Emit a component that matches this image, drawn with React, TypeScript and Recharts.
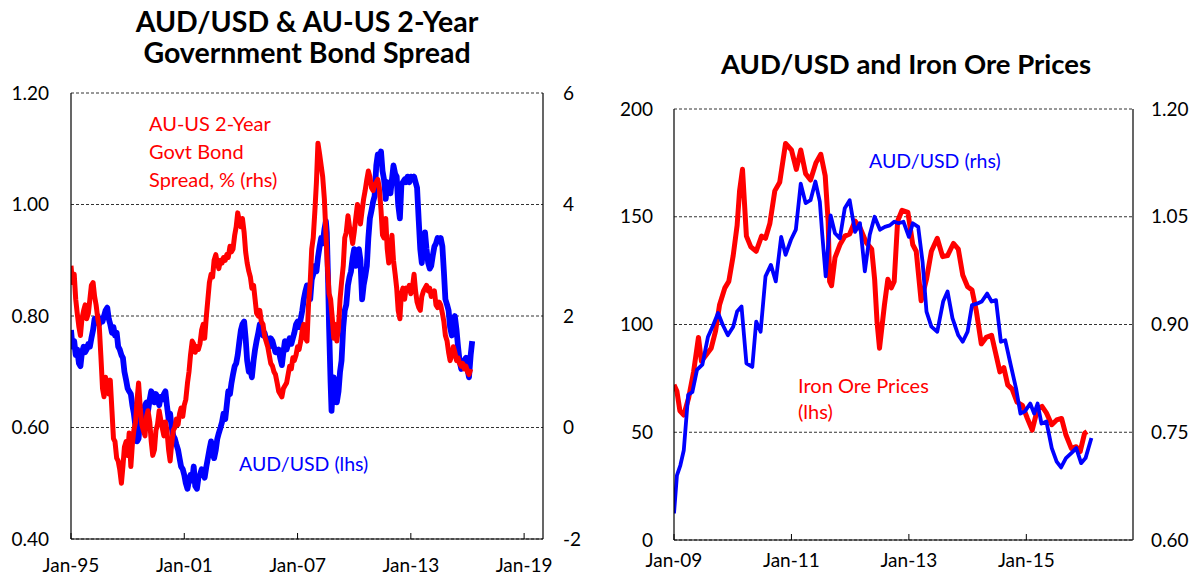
import React from 'react';
import { LineChart, Line, XAxis, YAxis, CartesianGrid } from 'recharts';

const FONT = 'Lato, "Open Sans", sans-serif';
const RED = '#FF0000';
const BLUE = '#0000FF';

// ---------- Left chart: AUD/USD & AU-US 2-Year Government Bond Spread ----------
const leftTitle = ['AUD/USD & AU-US 2-Year', 'Government Bond Spread'];
const leftXTicks = [1995, 2001, 2007, 2013, 2019];
const leftXLabels = ['Jan-95', 'Jan-01', 'Jan-07', 'Jan-13', 'Jan-19'];
const leftLhsTicks = [0.4, 0.6, 0.8, 1.0, 1.2];
const leftRhsTicks = [-2, 0, 2, 4, 6];

// AUD/USD (lhs) [decimal year, value]
const audLeft: [number, number][] = [
  [1995.0, 0.775], [1995.08, 0.745], [1995.17, 0.755], [1995.25, 0.73], [1995.33, 0.74], [1995.42, 0.715],
  [1995.5, 0.71], [1995.58, 0.735], [1995.67, 0.745], [1995.75, 0.735], [1995.83, 0.74], [1995.92, 0.75],
  [1996.0, 0.745], [1996.08, 0.76], [1996.17, 0.775], [1996.25, 0.795], [1996.33, 0.79], [1996.42, 0.8],
  [1996.5, 0.785], [1996.58, 0.795], [1996.67, 0.79], [1996.75, 0.8], [1996.83, 0.81], [1996.92, 0.815],
  [1997.0, 0.795], [1997.08, 0.785], [1997.17, 0.77], [1997.25, 0.78], [1997.33, 0.765], [1997.42, 0.77],
  [1997.5, 0.745], [1997.58, 0.74], [1997.67, 0.73], [1997.75, 0.725], [1997.83, 0.7], [1997.92, 0.685],
  [1998.0, 0.67], [1998.08, 0.665], [1998.17, 0.66], [1998.25, 0.64], [1998.33, 0.625], [1998.42, 0.6],
  [1998.5, 0.575], [1998.58, 0.58], [1998.67, 0.62], [1998.75, 0.635], [1998.83, 0.62], [1998.92, 0.64],
  [1999.0, 0.645], [1999.08, 0.63], [1999.17, 0.65], [1999.25, 0.665], [1999.33, 0.66], [1999.42, 0.645],
  [1999.5, 0.66], [1999.58, 0.655], [1999.67, 0.64], [1999.75, 0.655], [1999.83, 0.65], [1999.92, 0.66],
  [2000.0, 0.665], [2000.08, 0.64], [2000.17, 0.615], [2000.25, 0.625], [2000.33, 0.6], [2000.42, 0.585],
  [2000.5, 0.58], [2000.58, 0.57], [2000.67, 0.56], [2000.75, 0.545], [2000.83, 0.53], [2000.92, 0.525],
  [2001.0, 0.515], [2001.08, 0.5], [2001.17, 0.49], [2001.25, 0.505], [2001.33, 0.515], [2001.42, 0.505],
  [2001.5, 0.53], [2001.58, 0.495], [2001.67, 0.49], [2001.75, 0.51], [2001.83, 0.515], [2001.92, 0.525],
  [2002.0, 0.52], [2002.08, 0.51], [2002.17, 0.53], [2002.25, 0.545], [2002.33, 0.56], [2002.42, 0.575],
  [2002.5, 0.555], [2002.58, 0.545], [2002.67, 0.56], [2002.75, 0.58], [2002.83, 0.59], [2002.92, 0.6],
  [2003.0, 0.61], [2003.08, 0.625], [2003.17, 0.615], [2003.25, 0.64], [2003.33, 0.665], [2003.42, 0.66],
  [2003.5, 0.68], [2003.58, 0.695], [2003.67, 0.71], [2003.75, 0.715], [2003.83, 0.73], [2003.92, 0.755],
  [2004.0, 0.775], [2004.08, 0.785], [2004.17, 0.79], [2004.25, 0.76], [2004.33, 0.72], [2004.42, 0.7],
  [2004.5, 0.705], [2004.58, 0.69], [2004.67, 0.72], [2004.75, 0.74], [2004.83, 0.755], [2004.92, 0.77],
  [2005.0, 0.785], [2005.08, 0.775], [2005.17, 0.765], [2005.25, 0.77], [2005.33, 0.76], [2005.42, 0.755],
  [2005.5, 0.745], [2005.58, 0.76], [2005.67, 0.755], [2005.75, 0.745], [2005.83, 0.735], [2005.92, 0.735],
  [2006.0, 0.74], [2006.08, 0.725], [2006.17, 0.712], [2006.25, 0.735], [2006.33, 0.755], [2006.42, 0.74],
  [2006.5, 0.75], [2006.58, 0.76], [2006.67, 0.75], [2006.75, 0.76], [2006.83, 0.77], [2006.92, 0.785],
  [2007.0, 0.79], [2007.08, 0.78], [2007.17, 0.795], [2007.25, 0.81], [2007.33, 0.83], [2007.42, 0.845],
  [2007.5, 0.855], [2007.58, 0.845], [2007.67, 0.83], [2007.75, 0.865], [2007.83, 0.875], [2007.92, 0.89],
  [2008.0, 0.88], [2008.08, 0.905], [2008.17, 0.925], [2008.25, 0.94], [2008.33, 0.93], [2008.42, 0.955],
  [2008.5, 0.97], [2008.55, 0.95], [2008.62, 0.86], [2008.67, 0.78], [2008.75, 0.68], [2008.8, 0.63],
  [2008.85, 0.66], [2008.92, 0.69], [2009.0, 0.67], [2009.08, 0.645], [2009.17, 0.665], [2009.25, 0.7],
  [2009.33, 0.72], [2009.42, 0.78], [2009.5, 0.81], [2009.58, 0.82], [2009.67, 0.855], [2009.75, 0.87],
  [2009.83, 0.88], [2009.92, 0.905], [2010.0, 0.92], [2010.08, 0.89], [2010.17, 0.9], [2010.25, 0.92],
  [2010.33, 0.9], [2010.42, 0.83], [2010.5, 0.855], [2010.58, 0.87], [2010.67, 0.89], [2010.75, 0.94],
  [2010.83, 0.975], [2010.92, 0.99], [2011.0, 1.005], [2011.08, 1.015], [2011.17, 1.07], [2011.25, 1.09],
  [2011.33, 1.08], [2011.42, 1.095], [2011.5, 1.06], [2011.58, 1.045], [2011.67, 1.01], [2011.75, 1.04],
  [2011.83, 1.03], [2011.92, 1.02], [2012.0, 1.045], [2012.08, 1.07], [2012.17, 1.055], [2012.25, 1.05],
  [2012.33, 1.0], [2012.42, 0.975], [2012.5, 1.035], [2012.58, 1.04], [2012.67, 1.045], [2012.75, 1.04],
  [2012.83, 1.05], [2012.92, 1.04], [2013.0, 1.05], [2013.08, 1.045], [2013.17, 1.05], [2013.25, 1.04],
  [2013.33, 1.03], [2013.42, 0.97], [2013.5, 0.92], [2013.58, 0.895], [2013.67, 0.935], [2013.75, 0.95],
  [2013.83, 0.92], [2013.92, 0.895], [2014.0, 0.885], [2014.08, 0.89], [2014.17, 0.91], [2014.25, 0.925],
  [2014.33, 0.93], [2014.42, 0.94], [2014.5, 0.935], [2014.58, 0.94], [2014.67, 0.925], [2014.75, 0.88],
  [2014.83, 0.83], [2014.92, 0.82], [2015.0, 0.81], [2015.08, 0.78], [2015.17, 0.765], [2015.25, 0.78],
  [2015.33, 0.8], [2015.42, 0.775], [2015.5, 0.745], [2015.58, 0.72], [2015.67, 0.705], [2015.75, 0.715],
  [2015.83, 0.72], [2015.92, 0.725], [2016.0, 0.705], [2016.08, 0.69], [2016.17, 0.73], [2016.25, 0.755],
];

// AU-US 2-year government bond spread, % (rhs) [decimal year, value]
const spreadLeft: [number, number][] = [
  [1995.0, 2.9], [1995.08, 2.6], [1995.17, 2.75], [1995.25, 2.3], [1995.33, 2.05], [1995.42, 1.8],
  [1995.5, 1.65], [1995.58, 1.95], [1995.67, 2.1], [1995.75, 2.2], [1995.83, 1.95], [1995.92, 2.05],
  [1996.0, 2.3], [1996.08, 2.55], [1996.17, 2.6], [1996.25, 2.35], [1996.33, 2.2], [1996.42, 1.95],
  [1996.5, 1.8], [1996.58, 1.3], [1996.67, 0.7], [1996.75, 0.55], [1996.83, 0.9], [1996.92, 0.75],
  [1997.0, 0.6], [1997.08, 0.85], [1997.17, 0.3], [1997.25, -0.2], [1997.33, -0.25], [1997.42, -0.55],
  [1997.5, -0.6], [1997.58, -0.75], [1997.67, -1.0], [1997.75, -0.7], [1997.83, -0.35], [1997.92, -0.25],
  [1998.0, -0.5], [1998.08, -0.1], [1998.17, -0.7], [1998.25, -0.3], [1998.33, -0.05], [1998.42, 0.1],
  [1998.5, 0.5], [1998.58, 0.8], [1998.67, 0.35], [1998.75, 0.05], [1998.83, -0.05], [1998.92, -0.15],
  [1999.0, 0.2], [1999.08, 0.3], [1999.17, 0.1], [1999.25, -0.25], [1999.33, -0.5], [1999.42, -0.4],
  [1999.5, -0.05], [1999.58, 0.05], [1999.67, 0.3], [1999.75, 0.15], [1999.83, 0.0], [1999.92, -0.15],
  [2000.0, 0.1], [2000.08, -0.05], [2000.17, -0.4], [2000.25, -0.6], [2000.33, -0.3], [2000.42, -0.05],
  [2000.5, 0.0], [2000.58, 0.15], [2000.67, 0.05], [2000.75, 0.25], [2000.83, 0.35], [2000.92, 0.2],
  [2001.0, 0.4], [2001.08, 0.5], [2001.17, 0.8], [2001.25, 1.0], [2001.33, 1.3], [2001.42, 1.55],
  [2001.5, 1.5], [2001.58, 1.35], [2001.67, 1.45], [2001.75, 1.4], [2001.83, 1.5], [2001.92, 1.75],
  [2002.0, 1.85], [2002.08, 1.6], [2002.17, 2.0], [2002.25, 2.3], [2002.33, 2.6], [2002.42, 2.75],
  [2002.5, 2.7], [2002.58, 3.0], [2002.67, 3.1], [2002.75, 2.95], [2002.83, 2.85], [2002.92, 3.0],
  [2003.0, 2.95], [2003.08, 3.05], [2003.17, 3.0], [2003.25, 3.1], [2003.33, 3.05], [2003.42, 3.25],
  [2003.5, 3.15], [2003.58, 3.2], [2003.67, 3.45], [2003.75, 3.6], [2003.83, 3.85], [2003.92, 3.7],
  [2004.0, 3.6], [2004.08, 3.75], [2004.17, 3.5], [2004.25, 3.15], [2004.33, 2.95], [2004.42, 2.8],
  [2004.5, 2.7], [2004.58, 2.5], [2004.67, 2.55], [2004.75, 2.3], [2004.83, 2.05], [2004.92, 2.0],
  [2005.0, 2.1], [2005.08, 1.9], [2005.17, 1.85], [2005.25, 1.65], [2005.33, 1.55], [2005.42, 1.45],
  [2005.5, 1.3], [2005.58, 1.15], [2005.67, 1.1], [2005.75, 1.0], [2005.83, 0.95], [2005.92, 0.8],
  [2006.0, 0.65], [2006.08, 0.6], [2006.17, 0.55], [2006.25, 0.7], [2006.33, 0.75], [2006.42, 0.8],
  [2006.5, 0.95], [2006.58, 1.1], [2006.67, 1.05], [2006.75, 1.25], [2006.83, 1.2], [2006.92, 1.3],
  [2007.0, 1.45], [2007.08, 1.4], [2007.17, 1.55], [2007.25, 1.75], [2007.33, 1.85], [2007.42, 1.6],
  [2007.5, 1.55], [2007.58, 2.2], [2007.67, 2.6], [2007.75, 3.2], [2007.83, 3.4], [2007.92, 3.9],
  [2008.0, 4.4], [2008.08, 5.1], [2008.17, 4.9], [2008.25, 4.7], [2008.33, 4.5], [2008.42, 4.1],
  [2008.5, 3.5], [2008.58, 2.9], [2008.67, 2.4], [2008.75, 2.3], [2008.83, 2.0], [2008.92, 1.6],
  [2009.0, 1.85], [2009.08, 1.55], [2009.17, 1.8], [2009.25, 2.3], [2009.33, 2.6], [2009.42, 2.9],
  [2009.5, 3.4], [2009.58, 3.5], [2009.67, 3.8], [2009.75, 3.6], [2009.83, 3.5], [2009.92, 3.3],
  [2010.0, 3.5], [2010.08, 3.75], [2010.17, 4.0], [2010.25, 3.9], [2010.33, 3.65], [2010.42, 3.9],
  [2010.5, 4.1], [2010.58, 4.25], [2010.67, 4.45], [2010.75, 4.6], [2010.83, 4.5], [2010.92, 4.3],
  [2011.0, 4.25], [2011.08, 4.35], [2011.17, 4.4], [2011.25, 4.45], [2011.33, 4.3], [2011.42, 3.9],
  [2011.5, 3.45], [2011.58, 3.4], [2011.67, 3.75], [2011.75, 3.2], [2011.83, 2.95], [2011.92, 3.1],
  [2012.0, 3.45], [2012.08, 3.0], [2012.17, 2.75], [2012.25, 2.5], [2012.33, 2.1], [2012.42, 1.95],
  [2012.5, 2.4], [2012.58, 2.5], [2012.67, 2.3], [2012.75, 2.5], [2012.83, 2.45], [2012.92, 2.55],
  [2013.0, 2.4], [2013.08, 2.5], [2013.17, 2.75], [2013.25, 2.45], [2013.33, 2.25], [2013.42, 2.15],
  [2013.5, 2.1], [2013.58, 2.35], [2013.67, 2.45], [2013.75, 2.5], [2013.83, 2.55], [2013.92, 2.45],
  [2014.0, 2.5], [2014.08, 2.35], [2014.17, 2.4], [2014.25, 2.45], [2014.33, 2.2], [2014.42, 2.15],
  [2014.5, 2.25], [2014.58, 2.2], [2014.67, 2.05], [2014.75, 1.9], [2014.83, 1.65], [2014.92, 1.55],
  [2015.0, 1.35], [2015.08, 1.2], [2015.17, 1.3], [2015.25, 1.45], [2015.33, 1.35], [2015.42, 1.2],
  [2015.5, 1.25], [2015.58, 1.15], [2015.67, 1.1], [2015.75, 1.15], [2015.83, 1.05], [2015.92, 1.1],
  [2016.0, 1.0], [2016.08, 0.95], [2016.17, 1.05],
];

// ---------- Right chart: AUD/USD and Iron Ore Prices ----------
const rightTitle = 'AUD/USD and Iron Ore Prices';
const rightXTicks = [0, 24, 48, 72]; // months since Jan-09
const rightXLabels = ['Jan-09', 'Jan-11', 'Jan-13', 'Jan-15'];
const rightLhsTicks = [0, 50, 100, 150, 200];
const rightRhsTicks = [0.6, 0.75, 0.9, 1.05, 1.2];

// Iron ore prices (lhs) [months since Jan-09, value]
const ironOre: [number, number][] = [
  [0, 72], [0.6, 69], [1.2, 60], [2, 58], [3, 66], [4, 78], [5, 94], [5.6, 83], [6.6, 86], [7.6, 89],
  [8.5, 97], [9.3, 109], [10.4, 117], [11.2, 120], [12.1, 132], [12.9, 146], [13.4, 162], [14, 172],
  [14.8, 141], [15.7, 136], [16.8, 134], [17.9, 141], [18.7, 140], [19.6, 147], [20.6, 162], [21.6, 166],
  [22.8, 184], [24, 181], [25, 172], [25.9, 181], [26.9, 170], [27.9, 167], [29, 175], [30, 179],
  [30.9, 169], [31.5, 148], [31.8, 120], [32.2, 118], [32.9, 131], [33.9, 137], [34.9, 141], [35.9, 142],
  [37, 148], [38, 145], [39.3, 138], [40.4, 135], [41, 121], [41.5, 101], [42, 89], [43, 109],
  [43.7, 121], [44.4, 117], [45, 120], [45.7, 148], [46.6, 153], [47.8, 152], [48.8, 137], [49.5, 134],
  [50.5, 111], [51.6, 121], [52.6, 134], [53.8, 140], [54.9, 131.5], [55.9, 132], [57.1, 137.6],
  [58.1, 135], [59, 123], [60, 117.5], [60.9, 116], [61.8, 106], [62.8, 91], [63.8, 94], [64.9, 95],
  [65.7, 87], [66.6, 78], [67.4, 80], [68.2, 72], [69.1, 70], [70.1, 64], [71.2, 62.5], [72.2, 56.5],
  [73.2, 51], [74.3, 61], [75.2, 62], [76.1, 59], [77.2, 53.5], [78.2, 55.7], [79.2, 56.4], [80.1, 48.7],
  [81.2, 42.5], [82.2, 43.3], [83, 41], [83.9, 49.5], [84.4, 50.3],
];

// AUD/USD (rhs) [months since Jan-09, value]
const audRight: [number, number][] = [
  [0, 0.637], [0.6, 0.69], [1.3, 0.704], [2, 0.725], [2.9, 0.802], [3.75, 0.806], [4.7, 0.837],
  [5.8, 0.844], [6.95, 0.883], [8, 0.899], [9, 0.916], [10, 0.899], [11, 0.885], [12.1, 0.897],
  [12.9, 0.918], [13.8, 0.925], [14.8, 0.846], [16, 0.841], [16.8, 0.904], [17.7, 0.89], [18.7, 0.967],
  [19.8, 0.983], [20.8, 0.96], [21.9, 1.022], [22.8, 0.997], [23.9, 1.018], [24.9, 1.032], [25.9, 1.096],
  [26.9, 1.069], [27.9, 1.073], [28.9, 1.099], [29.8, 1.071], [30.3, 1.025], [31, 0.967], [32, 1.052],
  [32.9, 1.027], [33.9, 1.02], [34.9, 1.062], [35.9, 1.073], [37, 1.029], [38, 1.041], [39, 0.974],
  [40, 1.025], [41, 1.05], [42.1, 1.032], [43.1, 1.036], [44.1, 1.038], [45, 1.043], [45.9, 1.041],
  [46.9, 1.043], [48, 1.022], [48.8, 1.041], [49.9, 1.036], [50.8, 0.987], [51.6, 0.918], [52.6, 0.897],
  [53.8, 0.89], [55, 0.932], [55.9, 0.946], [56.9, 0.909], [58.1, 0.885], [59, 0.876], [60, 0.89],
  [60.9, 0.927], [61.9, 0.929], [62.9, 0.932], [64, 0.943], [64.9, 0.932], [65.8, 0.934], [66.8, 0.876],
  [67.7, 0.878], [68.8, 0.844], [69.9, 0.811], [70.8, 0.776], [71.7, 0.779], [72.8, 0.79], [73.6, 0.776],
  [74.3, 0.79], [75.1, 0.762], [76.1, 0.765], [77.2, 0.728], [78.2, 0.709], [79.1, 0.701], [80.1, 0.714],
  [81.2, 0.721], [82.2, 0.728], [83.2, 0.707], [84.1, 0.714], [85.3, 0.742],
];

const toRows = (arr: [number, number][]) => arr.map(([t, v]) => ({ t, v }));

const tickStyle = { fontSize: 19, fill: '#000', fontFamily: FONT };

function makeXTick(ticks: number[], labels: string[], labelOffset: number) {
  return (props: any) => {
    const { x, y, payload } = props;
    const idx = ticks.indexOf(payload.value);
    return (
      <g>
        <line x1={x} x2={x} y1={y} y2={y - 6} stroke="#000" strokeWidth={1} />
        <text x={x} y={y + labelOffset} textAnchor="middle" fontSize={19} fontFamily={FONT} fill="#000">
          {labels[idx]}
        </text>
      </g>
    );
  };
}

const LeftChart = () => (
  <LineChart width={600} height={577} margin={{ top: 93, right: 0, bottom: 8, left: 0 }}>
    <CartesianGrid yAxisId="l" vertical={false} stroke="#333" strokeDasharray="3 2" />
    <XAxis
      dataKey="t"
      type="number"
      domain={[1995, 2020]}
      ticks={leftXTicks}
      allowDataOverflow
      height={30}
      tickSize={0}
      tickMargin={0}
      tickLine={false}
      axisLine={{ stroke: '#000', strokeWidth: 1.2 }}
      tick={makeXTick(leftXTicks, leftXLabels, 33)}
      interval={0}
    />
    <YAxis
      yAxisId="l"
      orientation="left"
      domain={[0.4, 1.2]}
      ticks={leftLhsTicks}
      width={71}
      tickSize={0}
      tickMargin={22}
      tickLine={false}
      axisLine={{ stroke: '#000', strokeWidth: 1.2 }}
      tick={tickStyle}
      tickFormatter={(v: number) => v.toFixed(2)}
      interval={0}
    />
    <YAxis
      yAxisId="r"
      orientation="right"
      domain={[-2, 6]}
      ticks={leftRhsTicks}
      width={57}
      tickSize={0}
      tickMargin={20}
      tickLine={false}
      axisLine={{ stroke: '#000', strokeWidth: 1.2 }}
      tick={tickStyle}
      interval={0}
    />
    <Line
      yAxisId="l"
      data={toRows(audLeft)}
      dataKey="v"
      type="linear"
      dot={false}
      stroke={BLUE}
      strokeWidth={5.8}
      strokeLinejoin="round"
      isAnimationActive={false}
    />
    <Line
      yAxisId="r"
      data={toRows(spreadLeft)}
      dataKey="v"
      type="linear"
      dot={false}
      stroke={RED}
      strokeWidth={5}
      strokeLinejoin="round"
      isAnimationActive={false}
    />
  </LineChart>
);

const RightChart = () => (
  <LineChart width={599} height={577} margin={{ top: 109, right: 0, bottom: 7, left: 0 }}>
    <CartesianGrid yAxisId="l" vertical={false} stroke="#333" strokeDasharray="3 2" />
    <XAxis
      dataKey="t"
      type="number"
      domain={[0, 93.8]}
      ticks={rightXTicks}
      allowDataOverflow
      height={30}
      tickSize={0}
      tickMargin={0}
      tickLine={false}
      axisLine={{ stroke: '#000', strokeWidth: 1.2 }}
      tick={makeXTick(rightXTicks, rightXLabels, 27)}
      interval={0}
    />
    <YAxis
      yAxisId="l"
      orientation="left"
      domain={[0, 200]}
      ticks={rightLhsTicks}
      width={74}
      tickSize={0}
      tickMargin={21}
      tickLine={false}
      axisLine={{ stroke: '#000', strokeWidth: 1.2 }}
      tick={tickStyle}
      interval={0}
    />
    <YAxis
      yAxisId="r"
      orientation="right"
      domain={[0.6, 1.2]}
      ticks={rightRhsTicks}
      width={66}
      tickSize={0}
      tickMargin={18}
      tickLine={false}
      axisLine={{ stroke: '#000', strokeWidth: 1.2 }}
      tick={tickStyle}
      tickFormatter={(v: number) => v.toFixed(2)}
      interval={0}
    />
    <Line
      yAxisId="l"
      data={toRows(ironOre)}
      dataKey="v"
      type="linear"
      dot={false}
      stroke={RED}
      strokeWidth={5}
      strokeLinejoin="round"
      isAnimationActive={false}
    />
    <Line
      yAxisId="r"
      data={toRows(audRight)}
      dataKey="v"
      type="linear"
      dot={false}
      stroke={BLUE}
      strokeWidth={3.8}
      strokeLinejoin="round"
      isAnimationActive={false}
    />
  </LineChart>
);

export default function App() {
  return (
    <div style={{ position: 'absolute', left: 0, top: 0, width: 1199, height: 577, background: '#fff', overflow: 'hidden' }}>
      <div style={{ position: 'absolute', left: 0, top: 0 }}>
        <LeftChart />
      </div>
      <div style={{ position: 'absolute', left: 600, top: 0 }}>
        <RightChart />
      </div>
      <svg width={1199} height={577} style={{ position: 'absolute', left: 0, top: 0, pointerEvents: 'none' }}>
        <g fontFamily={FONT} fontWeight={700} fill="#000" textAnchor="middle">
          <text x={307} y={32} fontSize={28.5}>{leftTitle[0]}</text>
          <text x={307} y={63} fontSize={28.5}>{leftTitle[1]}</text>
          <text x={906} y={74} fontSize={27.5}>{rightTitle}</text>
        </g>
        <g fontFamily={FONT} fontSize={20} fill={RED}>
          <text x={149} y={131}>AU-US 2-Year</text>
          <text x={149} y={159}>Govt Bond</text>
          <text x={149} y={187}>Spread, % (rhs)</text>
          <text x={798} y={393}>Iron Ore Prices</text>
          <text x={798} y={419}>(lhs)</text>
        </g>
        <g fontFamily={FONT} fontSize={19.5} fill={BLUE}>
          <text x={239} y={471}>AUD/USD (lhs)</text>
          <text x={869} y={168}>AUD/USD (rhs)</text>
        </g>
      </svg>
    </div>
  );
}
